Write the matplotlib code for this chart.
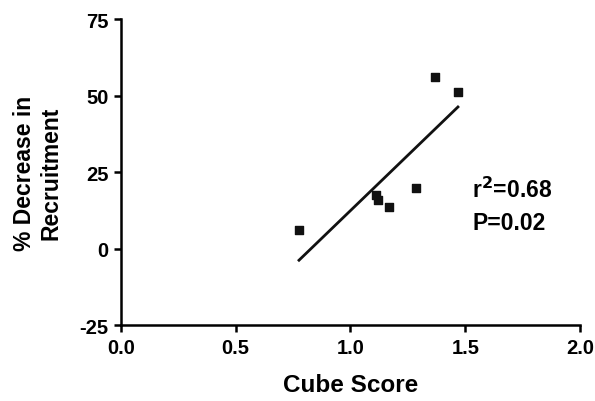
import numpy as np
import matplotlib
matplotlib.use("Agg")
import matplotlib.pyplot as plt

plt.rcParams["font.family"] = ["Liberation Sans", "DejaVu Sans"]
plt.rcParams["font.weight"] = "bold"

# data
cube_score = [0.776, 1.111, 1.120, 1.168, 1.285, 1.368, 1.468]
pct_decrease = [5.9, 17.6, 16.0, 13.7, 19.9, 56.2, 51.3]

x_ticks = [0.0, 0.5, 1.0, 1.5, 2.0]
y_ticks = [-25, 0, 25, 50, 75]

fig = plt.figure(figsize=(5.95, 4.02), dpi=100)
ax = fig.add_axes([0.203, 0.189, 0.772, 0.761])

ax.scatter(cube_score, pct_decrease, marker="s", s=28, color="#111111", zorder=3)

# linear regression line over the data range
slope, intercept = np.polyfit(cube_score, pct_decrease, 1)
xs = np.array([min(cube_score), max(cube_score)])
ax.plot(xs, slope * xs + intercept, color="#111111", linewidth=2)

ax.text(1.53, 19.5, r"r$^{2}$=0.68", fontsize=16.5, fontweight="bold", va="center")
ax.text(1.53, 8.5, "P=0.02", fontsize=16.5, fontweight="bold", va="center")

ax.set_xlim(0, 2.0)
ax.set_ylim(-25, 75)
ax.set_xticks(x_ticks)
ax.set_yticks(y_ticks)
ax.set_xticklabels([f"{t:.1f}" for t in x_ticks])
ax.set_yticklabels([str(t) for t in y_ticks])

ax.spines["top"].set_visible(False)
ax.spines["right"].set_visible(False)
for s in ("left", "bottom"):
    ax.spines[s].set_linewidth(1.8)
ax.tick_params(width=1.8, length=5, labelsize=14.5, pad=4)
for lab in ax.get_xticklabels() + ax.get_yticklabels():
    lab.set_fontweight("bold")

ax.set_xlabel("Cube Score", fontsize=17.5, fontweight="bold", labelpad=12)
ax.set_ylabel("% Decrease in\nRecruitment", fontsize=16.5, fontweight="bold", labelpad=12)

fig.savefig("out.png", dpi=100)
